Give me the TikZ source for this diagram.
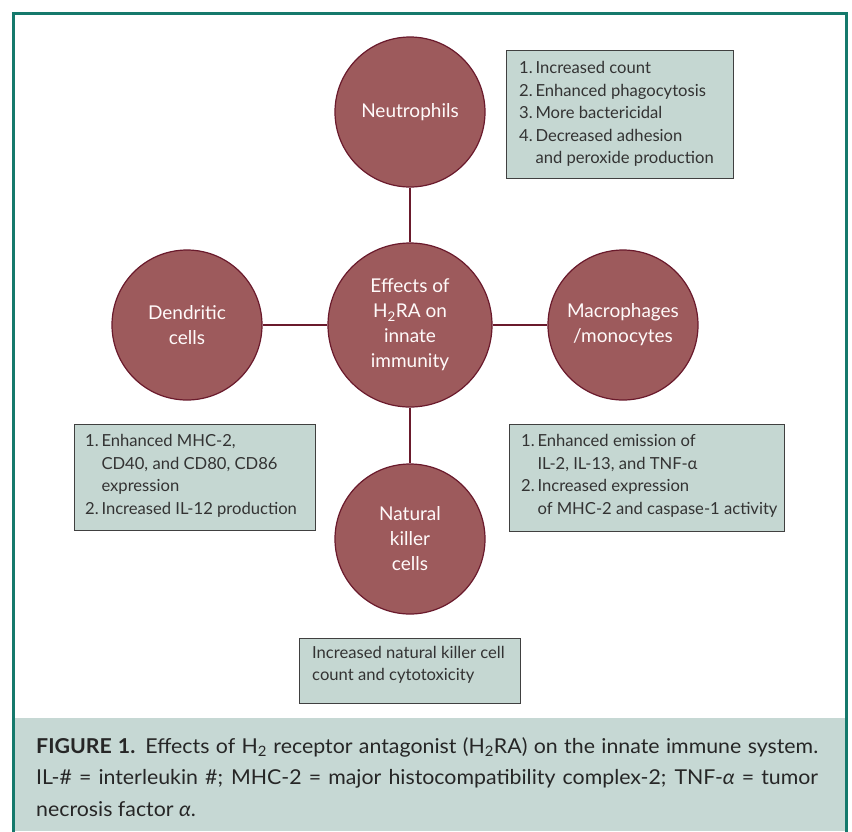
\documentclass[tikz,border=0pt]{standalone}
\usepackage{fontspec}
\setmainfont{Lato}
\newfontfamily\capfont[FakeStretch=1.04]{Lato}
\definecolor{teal1}{HTML}{15796C}
\definecolor{capfill}{HTML}{C6D8D4}
\definecolor{boxfill}{HTML}{C5D7D2}
\definecolor{cellfill}{HTML}{9D5A5C}
\definecolor{celldraw}{HTML}{6A1A2C}
\definecolor{txt}{HTML}{333333}
\begin{document}
\begin{tikzpicture}[x=1pt,y=-1pt,
  cell/.style={circle,draw=celldraw,line width=1.2pt,fill=cellfill,minimum size=150pt,inner sep=0pt,
    text=white!92!pink,font=\fontsize{19}{25}\selectfont,align=center},
  infobox/.style={draw=black!75,line width=1pt,fill=boxfill,text=txt,anchor=north west,inner sep=0pt},
  boxtext/.style={anchor=north west,inner sep=0pt,text=txt,font=\fontsize{16.6}{22.5}\selectfont},
  link/.style={draw=celldraw,line width=1.3pt}]
\useasboundingbox (0,0) rectangle (852,831);
\fill[white] (0,0) rectangle (852,831);
% caption band
\fill[capfill] (14,718) rectangle (846,831);
\draw[teal1,line width=3pt] (13.5,840) -- (13.5,13.5) -- (846.5,13.5) -- (846.5,840);
% circles
\node[cell] (neu) at (410,112) {Neutrophils};
\node[cell,minimum size=164pt] (ctr) at (410,325) {Effects of\\H\textsubscript{2}RA on\\innate\\immunity};
\node[cell] (den) at (187,325) {Dendritic\\cells};
\node[cell] (mac) at (623,325) {Macrophages\\/monocytes};
\node[cell] (nk) at (410,539) {Natural\\killer\\cells};
\draw[link] (neu) -- (ctr);
\draw[link] (ctr) -- (den);
\draw[link] (ctr) -- (mac);
\draw[link] (ctr) -- (nk);
% boxes
\node[infobox,minimum width=227pt,minimum height=128pt] (bneu) at (506,50) {};
\node[boxtext] (tneu) at (519,58)
 {\begin{tabular}{@{}l@{\,}l@{}}1.&Increased count\\2.&Enhanced phagocytosis\\3.&More bactericidal\\4.&Decreased adhesion\\&and peroxide production\end{tabular}};
\node[infobox,minimum width=241pt,minimum height=106pt] (bden) at (74,424) {};
\node[boxtext] (tden) at (85,431)
 {\begin{tabular}{@{}l@{\,}l@{}}1.&Enhanced MHC-2,\\&CD40, and CD80, CD86\\&expression\\2.&Increased IL-12 production\end{tabular}};
\node[infobox,minimum width=275pt,minimum height=107pt] (bmac) at (509,424) {};
\node[boxtext] (tmac) at (521,431)
 {\begin{tabular}{@{}l@{\,}l@{}}1.&Enhanced emission of\\&IL-2, IL-13, and TNF-α\\2.&Increased expression\\&of MHC-2 and caspase-1 activity\end{tabular}};
\node[infobox,minimum width=221pt,minimum height=65pt] (bnk) at (299,638) {};
\node[boxtext,align=left] (tnk) at (312,646)
 {Increased natural killer cell\\count and cytotoxicity};
% caption
\node[anchor=north west,inner sep=0pt,text width=782pt,align=justify,text=black!85,font=\capfont\fontsize{20.5}{31.5}\selectfont] (cap) at (36,737)
 {\textbf{FIGURE 1.} Effects of H\textsubscript{2} receptor antagonist (H\textsubscript{2}RA) on the innate immune system.\linebreak
 IL-\# = interleukin \#; MHC-2 = major histocompatibility complex-2; TNF-\textit{α} = tumor\linebreak
 necrosis factor \textit{α}.};
\end{tikzpicture}
\end{document}
